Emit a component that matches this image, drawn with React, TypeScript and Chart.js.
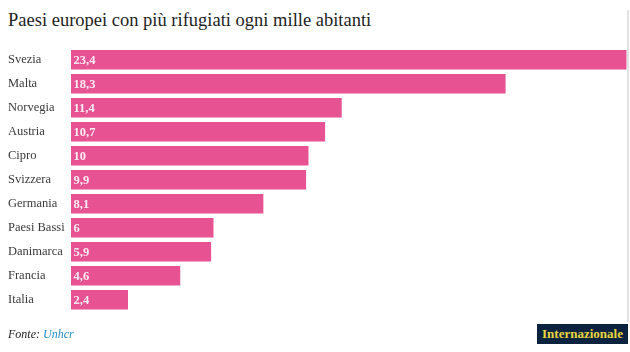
import React, { useEffect, useRef } from "react";
import { Chart, registerables } from "chart.js";

Chart.register(...registerables);

const countries = ["Svezia", "Malta", "Norvegia", "Austria", "Cipro", "Svizzera", "Germania", "Paesi Bassi", "Danimarca", "Francia", "Italia"];
const refugeesPerThousand = [23.4, 18.3, 11.4, 10.7, 10, 9.9, 8.1, 6, 5.9, 4.6, 2.4];
const valueLabels = ["23,4", "18,3", "11,4", "10,7", "10", "9,9", "8,1", "6", "5,9", "4,6", "2,4"];

const SERIF = '"Liberation Serif", "DejaVu Serif", serif';
const BAR = "#e75293";

const valueLabelPlugin = {
  id: "valueLabels",
  afterDatasetsDraw(chart: any) {
    const ctx = chart.ctx;
    const meta = chart.getDatasetMeta(0);
    ctx.save();
    ctx.font = `bold 12.5px ${SERIF}`;
    ctx.fillStyle = "#fcebf3";
    ctx.textAlign = "left";
    ctx.textBaseline = "middle";
    meta.data.forEach((el: any, i: number) => {
      const props = el.getProps(["base", "y"], true);
      ctx.fillText(valueLabels[i], props.base + 2.5, props.y + 1);
    });
    ctx.restore();
  },
};

export default function App() {
  const ref = useRef<HTMLCanvasElement>(null);
  useEffect(() => {
    if (!ref.current) return;
    const chart = new Chart(ref.current, {
      type: "bar",
      data: {
        labels: countries,
        datasets: [
          {
            data: refugeesPerThousand,
            backgroundColor: BAR,
            borderWidth: 0,
            barPercentage: 0.81,
            categoryPercentage: 1,
          },
        ],
      },
      options: {
        indexAxis: "y",
        animation: false,
        responsive: false,
        maintainAspectRatio: false,
        layout: { padding: { top: 47.8, bottom: 40.2, left: 8, right: 3.3 } },
        plugins: {
          legend: { display: false },
          tooltip: { enabled: false },
          title: { display: false },
        },
        scales: {
          x: { display: false, min: 0, max: 23.4 },
          y: {
            grid: { display: false },
            border: { display: false },
            ticks: {
              crossAlign: "far",
              font: { family: SERIF, size: 12.5 },
              color: "#3a3a3a",
              padding: 0,
            },
            afterFit: (scale: any) => {
              scale.width = 63;
            },
          },
        },
      },
      plugins: [valueLabelPlugin],
    } as any);
    return () => chart.destroy();
  }, []);

  return (
    <div style={{ position: "absolute", left: 0, top: 0, width: 630, height: 352, background: "#fff", overflow: "hidden" }}>
      <div style={{ position: "absolute", left: 8, top: 9, fontFamily: SERIF, fontSize: 18.5, color: "#1e1e1e", whiteSpace: "nowrap", lineHeight: "22px" }}>
        Paesi europei con più rifugiati ogni mille abitanti
      </div>
      <canvas ref={ref} width={630} height={352} style={{ position: "absolute", left: 0, top: 0, width: 630, height: 352 }} />
      <div style={{ position: "absolute", left: 627, top: 10, width: 2, height: 312, background: "#e2e2e2" }} />
      <div style={{ position: "absolute", left: 8, top: 327, fontFamily: SERIF, fontSize: 12, fontStyle: "italic", color: "#222", whiteSpace: "nowrap", lineHeight: "14px" }}>
        Fonte: <span style={{ color: "#2a8fc4" }}>Unhcr</span>
      </div>
      <div style={{ position: "absolute", left: 537, top: 324, width: 91, height: 20, background: "#0c2340", color: "#e9d53c", fontFamily: SERIF, fontWeight: "bold", fontSize: 13, lineHeight: "20px", textAlign: "center", whiteSpace: "nowrap" }}>
        Internazionale
      </div>
    </div>
  );
}
